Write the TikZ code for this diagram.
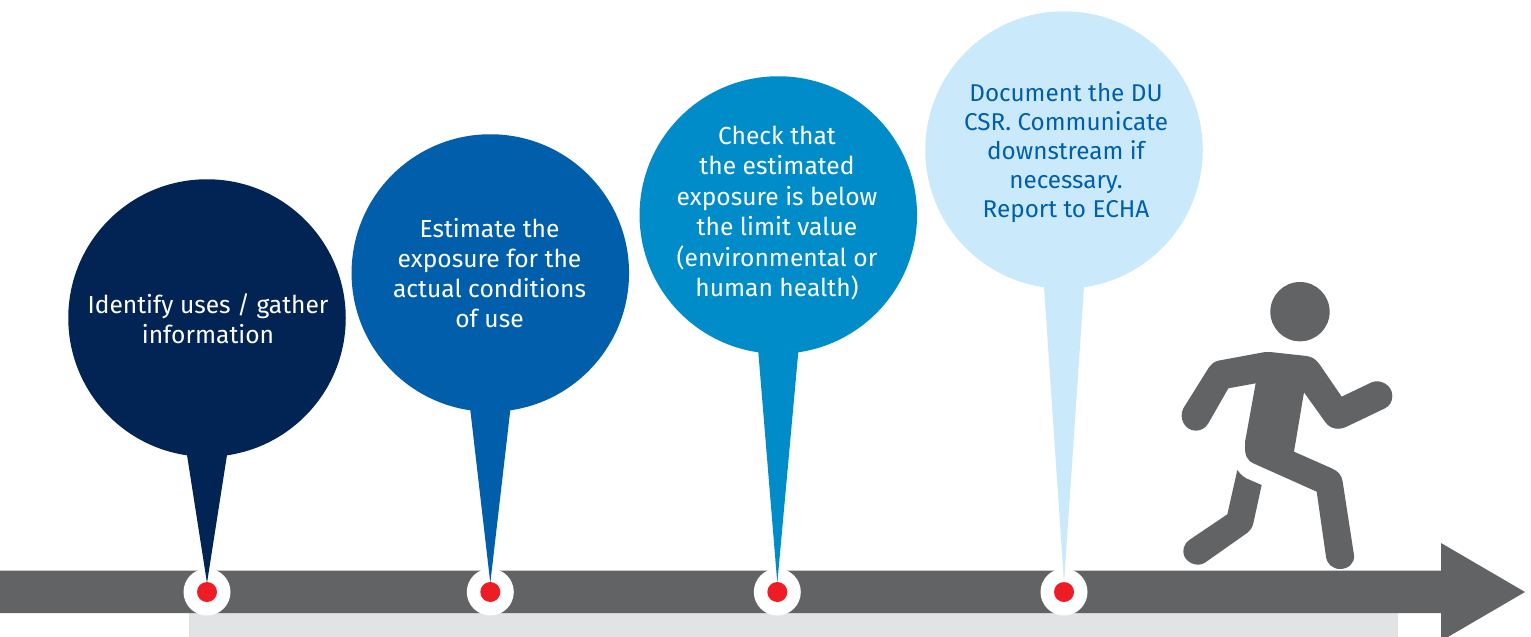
\documentclass[tikz,border=0pt]{standalone}
\usepackage{fontspec}
\setmainfont{Fira Sans}
\usetikzlibrary{calc}
\definecolor{barG}{HTML}{626365}
\definecolor{lightG}{HTML}{E2E3E5}
\definecolor{dotR}{HTML}{EE1C25}
\definecolor{cA}{HTML}{012454}
\definecolor{cB}{HTML}{005EAB}
\definecolor{cC}{HTML}{008CC8}
\definecolor{cD}{HTML}{CAEAFB}
\tikzset{
  x=1pt,y=-1pt,
  bubble/.style={circle,inner sep=0pt,minimum size=277.5pt},
  halo/.style={circle,fill=white,inner sep=0pt,minimum size=47pt},
  dot/.style={circle,fill=dotR,inner sep=0pt,minimum size=20pt},
  txt/.style={align=center,font=\fontsize{24.6}{30}\selectfont,inner sep=0pt},
}
\newcommand{\pin}[4]{% name, centre, marker, colour
  \node[halo] (h#1) at #3 {};
  \node[dot] (d#1) at #3 {};
  \fill[#4] ($(c#1)+(-20,137)$) -- ($(c#1)+(20,137)$) -- ($(d#1.center)+(0,-9)$) -- cycle;
}
\begin{document}
\begin{tikzpicture}
\useasboundingbox (0,0) rectangle (1531,637);
\begin{scope}
\clip (0,0) rectangle (1531,637);
\fill[lightG] (189,613) rectangle (1398,637);
\fill[barG] (0,570.5) -- (1441,570.5) -- (1441,543) -- (1525,592) -- (1441,641) -- (1441,613) -- (0,613) -- cycle;
\end{scope}
\coordinate (c1) at (207,318);
\coordinate (c2) at (490.3,273);
\coordinate (c3) at (778.3,215);
\coordinate (c4) at (1064,150);
\pin{1}{c1}{(207,592)}{cA}
\pin{2}{c2}{(490.3,592)}{cB}
\pin{3}{c3}{(777.3,592)}{cC}
\pin{4}{c4}{(1064,592)}{cD}
\node[bubble,fill=cA] (b1) at (c1) {};
\node[bubble,fill=cB] (b2) at (c2) {};
\node[bubble,fill=cC] (b3) at (c3) {};
\node[bubble,fill=cD] (b4) at (c4) {};
\node[txt,text=white] (t1) at (208,318.5) {Identify uses / gather\\information};
\node[txt,text=white] (t2) at (489.5,273.5) {Estimate the\\exposure for the\\actual conditions\\of use};
\node[txt,text=white,font=\fontsize{24.6}{30.4}\selectfont] (t3) at (777,213) {Check that\\the estimated\\exposure is below\\the limit value\\(environmental or\\human health)};
\node[txt,text=cB,font=\fontsize{24.3}{29}\selectfont] (t4) at (1066,152.5) {Document the DU\\CSR. Communicate\\downstream if\\necessary.\\Report to ECHA};
\begin{scope}[shift={(1150,270)},x=0.3333pt,y=-0.3333pt]
\fill[barG] (450,125) circle (89);
\fill[barG] (100,415) -- (175,295) .. controls (183,283) and (192,275) .. (205,272)
 -- (340,247) .. controls (347,246) and (353,246) .. (360,246)
 -- (470,258) .. controls (487,260) and (500,270) .. (510,285)
 -- (575,380) -- (665,337) .. controls (690,326) and (727,345) .. (727,377)
 .. controls (727,395) and (720,407) .. (705,415)
 -- (590,470) .. controls (565,482) and (540,477) .. (525,455)
 -- (462,367) -- (432,545) -- (545,595) .. controls (565,604) and (575,615) .. (578,635)
 -- (612,855) .. controls (615,880) and (595,897) .. (570,897)
 .. controls (548,897) and (531,882) .. (528,860)
 -- (500,665) -- (310,580) .. controls (290,570) and (284,555) .. (285,525)
 .. controls (285,515) and (286,508) .. (288,500)
 -- (317,340) -- (235,355) -- (175,460) .. controls (165,477) and (150,482) .. (137,482)
 .. controls (105,482) and (85,445) .. (100,415) -- cycle;
\fill[barG] (262,600) .. controls (272,615) and (285,625) .. (300,630)
 -- (335,645) -- (310,760) .. controls (307,772) and (302,781) .. (290,790)
 -- (165,878) .. controls (140,895) and (100,875) .. (100,845)
 .. controls (100,830) and (107,818) .. (118,810) -- (232,733) -- cycle;
\end{scope}
\end{tikzpicture}
\end{document}
